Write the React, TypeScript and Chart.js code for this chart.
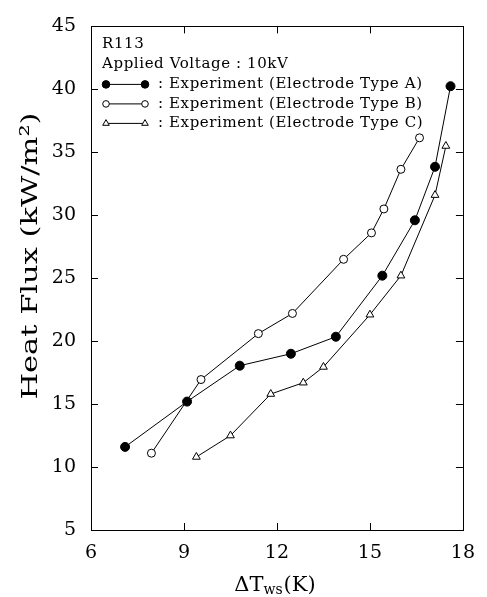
import React, { useEffect, useRef } from "react";
import { Chart, registerables } from "chart.js";

Chart.register(...registerables);

// ---- data ----
const seriesLabels = [
  ": Experiment (Electrode Type A)",
  ": Experiment (Electrode Type B)",
  ": Experiment (Electrode Type C)",
];
const aX = [7.1, 9.1, 10.8, 12.45, 13.9, 15.4, 16.45, 17.1, 17.6];
const aY = [11.6, 15.2, 18.05, 19.0, 20.35, 25.2, 29.6, 33.85, 40.25];
const bX = [7.95, 9.55, 11.4, 12.5, 14.15, 15.05, 15.45, 16.0, 16.6];
const bY = [11.1, 16.95, 20.6, 22.2, 26.5, 28.6, 30.5, 33.65, 36.15];
const cX = [9.4, 10.5, 11.8, 12.85, 13.5, 15.0, 16.0, 17.1, 17.45];
const cY = [10.8, 12.5, 15.8, 16.7, 17.95, 22.1, 25.2, 31.6, 35.5];
const xTicks = [6, 9, 12, 15, 18];
const yTicks = [5, 10, 15, 20, 25, 30, 35, 40, 45];
const headerLines = ["R113", "Applied Voltage : 10kV"];
const yTitle = "Heat Flux (kW/m\u00B2)";
const xTitleMain = "\u0394T";
const xTitleSub = "ws";
const xTitleTail = "(K)";

const FONT = "'DejaVu Serif', serif";

const zip = (xs: number[], ys: number[]) => xs.map((x, i) => ({ x, y: ys[i] }));

type Mk = "filled" | "circle" | "triangle";
const markers: Mk[] = ["filled", "circle", "triangle"];

function drawMarker(ctx: CanvasRenderingContext2D, kind: Mk, x: number, y: number, s: number) {
  ctx.save();
  ctx.lineWidth = 1;
  ctx.strokeStyle = "#000";
  ctx.beginPath();
  if (kind === "triangle") {
    const r = s;
    ctx.moveTo(x, y - r);
    ctx.lineTo(x + r * 0.866, y + r * 0.5);
    ctx.lineTo(x - r * 0.866, y + r * 0.5);
    ctx.closePath();
    ctx.fillStyle = "#fff";
  } else {
    ctx.arc(x, y, kind === "filled" ? s : s - 0.5, 0, Math.PI * 2);
    ctx.fillStyle = kind === "filled" ? "#000" : "#fff";
  }
  ctx.fill();
  ctx.stroke();
  ctx.restore();
}

const framePlugin = {
  id: "frameAndText",
  afterDraw(chart: any) {
    const { ctx, chartArea: a, scales } = chart;
    const xs = scales.x;
    const ys = scales.y;
    ctx.save();
    ctx.strokeStyle = "#000";
    ctx.lineWidth = 1;
    ctx.strokeRect(Math.round(a.left) + 0.5, Math.round(a.top) + 0.5, Math.round(a.right - a.left), Math.round(a.bottom - a.top));
    const tl = 7;
    ctx.beginPath();
    xs.ticks.forEach((t: any) => {
      const px = Math.round(xs.getPixelForValue(t.value)) + 0.5;
      ctx.moveTo(px, a.bottom);
      ctx.lineTo(px, a.bottom - tl);
      ctx.moveTo(px, a.top);
      ctx.lineTo(px, a.top + tl);
    });
    ys.ticks.forEach((t: any) => {
      const py = Math.round(ys.getPixelForValue(t.value)) + 0.5;
      ctx.moveTo(a.left, py);
      ctx.lineTo(a.left + tl, py);
      ctx.moveTo(a.right, py);
      ctx.lineTo(a.right - tl, py);
    });
    ctx.stroke();

    // header + legend
    ctx.fillStyle = "#000";
    ctx.font = `15px ${FONT}`;
    (ctx as any).letterSpacing = "0.6px";
    ctx.textBaseline = "middle";
    ctx.textAlign = "left";
    const lx = a.left + 11;
    let ly = a.top + 18;
    headerLines.forEach((h) => {
      ctx.fillText(h, lx, ly);
      ly += 19.5;
    });
    ly += 1;
    seriesLabels.forEach((lab, i) => {
      const x1 = lx + 4;
      const x2 = lx + 43;
      ctx.beginPath();
      ctx.moveTo(x1, ly);
      ctx.lineTo(x2, ly);
      ctx.stroke();
      drawMarker(ctx, markers[i], x1, ly, 3.8);
      drawMarker(ctx, markers[i], x2, ly, 3.8);
      ctx.fillText(lab, x2 + 13, ly);
      ly += 19.5;
    });
    (ctx as any).letterSpacing = "0px";

    // y title
    ctx.save();
    ctx.font = `23px ${FONT}`;
    const w0 = ctx.measureText(yTitle).width;
    const target = 287;
    ctx.translate(31, 256);
    ctx.rotate(-Math.PI / 2);
    ctx.scale(target / w0, 1);
    ctx.textAlign = "center";
    ctx.textBaseline = "middle";
    ctx.fillText(yTitle, 0, 0);
    ctx.restore();

    // x title with subscript
    ctx.save();
    ctx.textBaseline = "alphabetic";
    ctx.textAlign = "left";
    const big = `21px ${FONT}`;
    const small = `14px ${FONT}`;
    ctx.font = big;
    const w1 = ctx.measureText(xTitleMain).width;
    const w3 = ctx.measureText(xTitleTail).width;
    ctx.font = small;
    const w2 = ctx.measureText(xTitleSub).width;
    const total = w1 + w2 + 1 + w3;
    let cx = (a.left + a.right) / 2 - total / 2 - 2;
    const base = 591;
    ctx.font = big;
    ctx.fillText(xTitleMain, cx, base);
    cx += w1;
    ctx.font = small;
    ctx.fillText(xTitleSub, cx, base + 3);
    cx += w2 + 1;
    ctx.font = big;
    ctx.fillText(xTitleTail, cx, base);
    ctx.restore();

    ctx.restore();
  },
};

export default function App() {
  const ref = useRef<HTMLCanvasElement>(null);
  useEffect(() => {
    document.body.style.margin = "0";
    const mkDs = (label: string, xs: number[], ys: number[], kind: Mk) => ({
      label,
      data: zip(xs, ys),
      showLine: true,
      borderColor: "#000",
      borderWidth: 1,
      pointStyle: kind === "triangle" ? "triangle" : "circle",
      pointRadius: kind === "filled" ? 4.5 : kind === "triangle" ? 4.5 : 4,
      pointBackgroundColor: kind === "filled" ? "#000" : "#fff",
      pointBorderColor: "#000",
      pointBorderWidth: 1,
      backgroundColor: "#000",
      tension: 0,
    });
    const chart = new Chart(ref.current as HTMLCanvasElement, {
      type: "scatter",
      data: {
        datasets: [
          mkDs(seriesLabels[0], aX, aY, "filled"),
          mkDs(seriesLabels[1], bX, bY, "circle"),
          mkDs(seriesLabels[2], cX, cY, "triangle"),
        ],
      },
      options: {
        animation: false,
        responsive: false,
        devicePixelRatio: 1,
        layout: { padding: { top: 19, right: 14, left: 0, bottom: 0 } },
        plugins: { legend: { display: false }, tooltip: { enabled: false } },
        scales: {
          x: {
            type: "linear",
            min: 6,
            max: 18,
            afterBuildTicks: (s: any) => {
              s.ticks = xTicks.map((v) => ({ value: v }));
            },
            afterFit: (s: any) => {
              s.height = 67;
            },
            grid: { display: false, drawTicks: false },
            border: { display: false },
            ticks: { color: "#000", font: { family: FONT, size: 19 }, padding: 12 },
          },
          y: {
            type: "linear",
            min: 5,
            max: 45,
            afterBuildTicks: (s: any) => {
              s.ticks = yTicks.map((v) => ({ value: v }));
            },
            afterFit: (s: any) => {
              s.width = 91;
            },
            grid: { display: false, drawTicks: false },
            border: { display: false },
            ticks: { color: "#000", font: { family: FONT, size: 19 }, padding: 15 },
          },
        },
      },
      plugins: [framePlugin],
    } as any);
    return () => chart.destroy();
  }, []);
  return (
    <div style={{ position: "fixed", left: 0, top: 0, width: 487, height: 597, background: "#fff" }}>
      <canvas ref={ref} width={487} height={597} />
    </div>
  );
}
